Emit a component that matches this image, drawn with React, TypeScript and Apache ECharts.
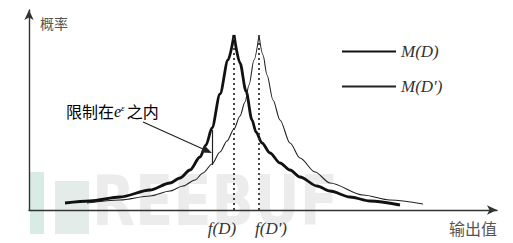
import React, { useEffect, useRef } from 'react';
import * as echarts from 'echarts';

// M(D): thick curve, split at its peak so the cusp stays sharp
const mdLeft: number[][] = [[9, 3.5], [15.25, 4.5], [22.75, 6.5], [30.25, 10], [35.25, 13.5], [37.75, 16], [40.25, 20], [42.75, 26.5], [44.25, 32.5], [45.75, 41], [47.75, 58], [49.75, 75], [51.25, 87.5]];
const mdRight: number[][] = [[51.25, 87.5], [52.75, 73.5], [54.25, 59.5], [55.75, 45], [56.75, 39], [58.25, 33.5], [60.25, 28.5], [62.75, 23.5], [65.25, 20], [67.75, 16.5], [72, 12], [75.25, 9.5], [80.25, 6.5], [85.25, 4.5], [92.75, 2.5]];
// M(D'): thin curve
const mdpLeft: number[][] = [[14.5, 3.5], [22.75, 5], [30.25, 7], [35.25, 9.5], [38.5, 12], [41.5, 15], [43.5, 18.5], [45.75, 23], [47.75, 29], [49.5, 34.5], [51.25, 40.5], [52.75, 47], [54, 54], [55, 62.5], [56.25, 75], [57.5, 87.5]];
const mdpRight: number[][] = [[57.5, 87.5], [58.5, 77.5], [59.5, 67.5], [61, 55], [62.75, 45], [65.25, 33.5], [67.75, 26], [71.5, 19], [75.25, 13.5], [83.5, 7.5], [90.25, 5], [98.5, 3]];

const seriesNames = ['M(D)', "M(D')"];
const peakX = [51.25, 57.5];
const peakY = 87.5;
const tickLabels = ['f(D)', "f(D')"];
const bracketX = 45.75;
const bracketY = [40, 22.5];
const arrowFrom = [28.5, 44];
const arrowTo = [44.6, 29.5];

const X_MAX = 117;
const Y_MAX = 100;

export default function App() {
  const ref = useRef<HTMLDivElement>(null);
  useEffect(() => {
    const chart = echarts.init(ref.current!, null, { renderer: 'svg' });
    const serifItalic = {
      fontFamily: '"Liberation Serif", "DejaVu Serif", serif',
      fontStyle: 'italic' as const,
      fontSize: 17,
      color: '#333',
    };
    const cjk = '"Noto Sans CJK SC", sans-serif';
    const axisCommon = {
      type: 'value' as const,
      min: 0,
      axisTick: { show: false },
      axisLabel: { show: false },
      splitLine: { show: false },
      z: 5,
    };
    const lineCommon = {
      type: 'line' as const,
      showSymbol: false,
      symbol: 'none',
      smooth: 0.3,
      smoothMonotone: 'x' as const,
      silent: true,
    };
    const thick = { color: '#111', width: 2.8 };
    const thin = { color: '#222', width: 1.1 };
    chart.setOption({
      animation: false,
      backgroundColor: '#fff',
      grid: { left: 29, right: 16, top: 10, bottom: 33 },
      xAxis: {
        ...axisCommon,
        max: X_MAX,
        axisLine: { show: true, symbol: ['none', 'arrow'], symbolSize: [7, 10], lineStyle: { color: '#333', width: 1.4 } },
      },
      yAxis: {
        ...axisCommon,
        max: Y_MAX,
        axisLine: { show: true, symbol: ['none', 'arrow'], symbolSize: [7, 10], lineStyle: { color: '#333', width: 1.4 } },
      },
      legend: {
        data: seriesNames,
        orient: 'vertical',
        left: 336,
        top: 38,
        itemWidth: 54,
        itemHeight: 14,
        itemGap: 18,
        selectedMode: false,
        itemStyle: { opacity: 0 },
        textStyle: { ...serifItalic, fontSize: 17 },
      },
      series: [
        {
          ...lineCommon,
          name: seriesNames[0],
          data: mdLeft,
          lineStyle: thick,
          itemStyle: { color: '#111' },
          markLine: {
            silent: true,
            symbol: ['none', 'none'],
            label: { show: false },
            lineStyle: { color: '#333', width: 1.8, type: [2, 3] },
            data: [
              [{ coord: [peakX[0], 0] }, { coord: [peakX[0], peakY] }],
              [{ coord: [peakX[1], 0] }, { coord: [peakX[1], peakY] }],
              [
                { coord: [bracketX, bracketY[0]], lineStyle: { type: 'solid', width: 1.2, color: '#222' } },
                { coord: [bracketX, bracketY[1]] },
              ],
              [
                { coord: arrowFrom, lineStyle: { type: 'solid', width: 1.2, color: '#222' } },
                { coord: arrowTo, symbol: 'triangle', symbolSize: [8, 10] },
              ],
            ],
          },
        },
        { ...lineCommon, name: seriesNames[0], data: mdRight, lineStyle: thick, itemStyle: { color: '#111' } },
        { ...lineCommon, name: seriesNames[1], data: mdpLeft, lineStyle: thin, itemStyle: { color: '#222' } },
        { ...lineCommon, name: seriesNames[1], data: mdpRight, lineStyle: thin, itemStyle: { color: '#222' } },
      ],
      graphic: [
        // faint watermark
        { type: 'rect', z: -1, shape: { x: 30, y: 172, width: 14, height: 62 }, style: { fill: '#d8ebe5' } },
        { type: 'rect', z: -1, shape: { x: 55, y: 181, width: 34, height: 53 }, style: { fill: '#e3ece9' } },
        {
          type: 'text', z: -1, x: 92, y: 236, scaleX: 0.8,
          style: { text: 'REEBUF', fontFamily: '"DejaVu Sans", sans-serif', fontWeight: 'bold', fontSize: 70, fill: '#ececec', verticalAlign: 'bottom' },
        },
        {
          type: 'text', z: 10, x: 40, y: 16,
          style: { text: '概率', fontFamily: cjk, fontSize: 14, fill: '#555' },
        },
        {
          type: 'text', z: 10, x: 497, y: 228,
          style: { text: '输出值', fontFamily: cjk, fontSize: 16, fill: '#555', align: 'right', verticalAlign: 'middle' },
        },
        {
          type: 'text', z: 10, x: 222, y: 228,
          style: { text: tickLabels[0], ...serifItalic, fill: '#333', align: 'center', verticalAlign: 'middle' },
        },
        {
          type: 'text', z: 10, x: 271, y: 228,
          style: { text: tickLabels[1], ...serifItalic, fill: '#333', align: 'center', verticalAlign: 'middle' },
        },
        {
          type: 'text', z: 10, x: 66, y: 111,
          style: {
            text: '{c|限制在}{e|e}{s|ε}{c|之内}',
            verticalAlign: 'middle',
            rich: {
              c: { fontFamily: cjk, fontSize: 16, color: '#444' },
              e: { fontFamily: '"Liberation Serif", serif', fontStyle: 'italic', fontSize: 16, color: '#444' },
              s: { fontFamily: '"Liberation Serif", serif', fontStyle: 'italic', fontSize: 9, color: '#444', verticalAlign: 'top', padding: [0, 2, 6, 0] },
            },
          },
        },
      ],
    });
    return () => chart.dispose();
  }, []);
  return <div ref={ref} style={{ position: 'absolute', left: 0, top: 0, width: 513, height: 243 }} />;
}
